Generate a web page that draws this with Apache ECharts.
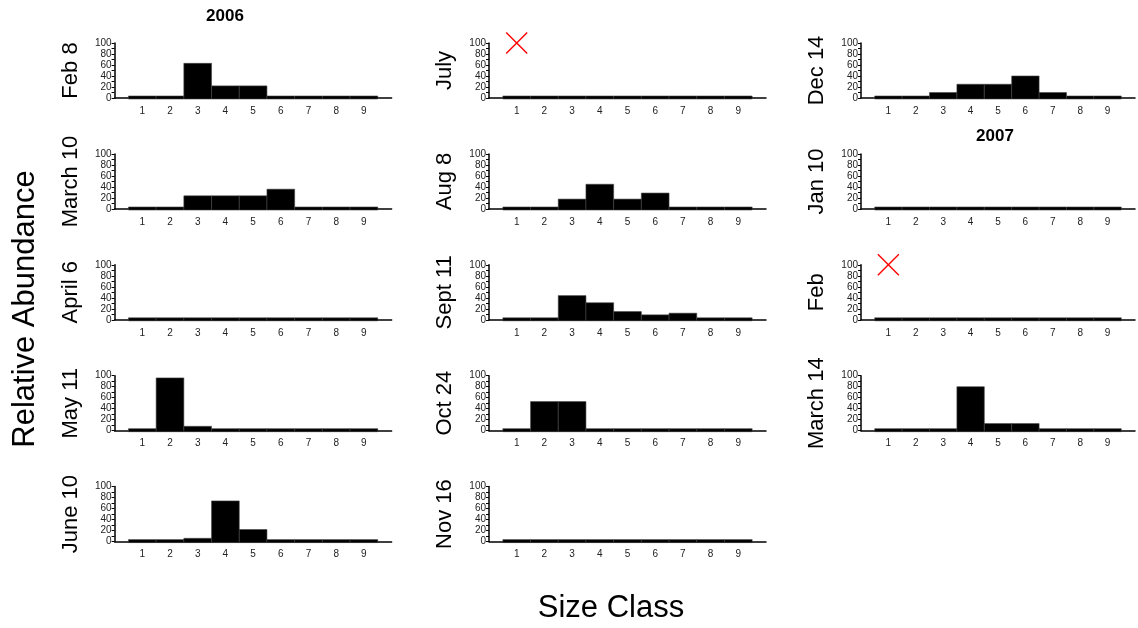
<!DOCTYPE html>
<html>
<head>
<meta charset="utf-8">
<script src="https://cdn.jsdelivr.net/npm/echarts@6/dist/echarts.min.js"></script>
<style>
  html, body { margin: 0; padding: 0; background: #fff; }
  #chart { width: 1138px; height: 628px; }
</style>
</head>
<body>
<div id="chart"></div>
<script>
// Size classes along the x axis
const sizeClasses = [1, 2, 3, 4, 5, 6, 7, 8, 9];
const yTicks = [0, 20, 40, 60, 80, 100];

// Sampling dates, in panel order (column by column)
const dates = ['Feb 8', 'March 10', 'April 6', 'May 11', 'June 10',
               'July', 'Aug 8', 'Sept 11', 'Oct 24', 'Nov 16',
               'Dec 14', 'Jan 10', 'Feb', 'March 14'];

// Relative abundance (%) per size class for each date
const feb8     = [0, 0, 63, 22, 22, 0, 0, 0, 0];
const march10  = [0, 0, 24, 24, 24, 36, 0, 0, 0];
const april6   = [0, 0, 0, 0, 0, 0, 0, 0, 0];
const may11    = [0, 96, 8, 0, 0, 0, 0, 0, 0];
const june10   = [0, 0, 6, 74, 22, 3, 0, 0, 0];
const july     = [0, 0, 0, 0, 0, 0, 0, 0, 0];
const aug8     = [0, 0, 18, 45, 18, 29, 0, 0, 0];
const sept11   = [0, 0, 44, 31, 15, 9, 12, 0, 0];
const oct24    = [0, 53, 53, 0, 0, 0, 0, 0, 0];
const nov16    = [0, 0, 0, 0, 0, 0, 0, 0, 0];
const dec14    = [0, 0, 10, 25, 25, 40, 10, 0, 0];
const jan10    = [0, 0, 0, 0, 0, 0, 0, 0, 0];
const feb2007  = [0, 0, 0, 0, 0, 0, 0, 0, 0];
const march14  = [0, 0, 0, 80, 13, 13, 0, 0, 0];

const abundance = [feb8, march10, april6, may11, june10,
                   july, aug8, sept11, oct24, nov16,
                   dec14, jan10, feb2007, march14];

// Dates with no sample: a red cross at size class 1, 100%
const noSampleDates = ['July', 'Feb'];
const noSamplePoint = [1, 100];

const FONT = 'Liberation Sans, Arial, sans-serif';

// Panel grid geometry
const colLeft = [114.6, 489, 861];
const panelWidth = 277;
const rowTop = [43, 154, 264.8, 375.7, 486.6];
const panelHeight = 55;
const panelsPerCol = [5, 5, 4];

const grids = [], xAxes = [], yAxes = [], series = [];

let idx = 0;
for (let c = 0; c < 3; c++) {
  for (let r = 0; r < panelsPerCol[c]; r++) {
    const i = idx++;
    grids.push({ left: colLeft[c], top: rowTop[r], width: panelWidth, height: panelHeight, containLabel: false });
    xAxes.push({
      gridIndex: i, type: 'value', min: 0, max: 10, interval: 1,
      axisLine: { show: true, onZero: false, lineStyle: { color: '#000', width: 1.5 } },
      axisTick: { show: false },
      splitLine: { show: false },
      axisLabel: {
        fontFamily: FONT, fontSize: 10, color: '#222', margin: 8,
        formatter: v => (sizeClasses.indexOf(v) >= 0 ? String(v) : '')
      }
    });
    yAxes.push({
      gridIndex: i, type: 'value', min: yTicks[0], max: yTicks[yTicks.length - 1], interval: 20,
      name: dates[i], nameLocation: 'middle', nameGap: 33, nameRotate: 90,
      nameTextStyle: { fontFamily: FONT, fontSize: 22, color: '#000' },
      axisLine: { show: true, lineStyle: { color: '#000', width: 1.5 } },
      axisTick: { show: true, inside: false, length: 3, lineStyle: { color: '#000', width: 1 } },
      minorTick: { show: true, splitNumber: 2, length: 3, lineStyle: { color: '#000', width: 1 } },
      splitLine: { show: false },
      axisLabel: { fontFamily: FONT, fontSize: 10, color: '#222', margin: 3 }
    });
    series.push({
      type: 'custom',
      xAxisIndex: i, yAxisIndex: i,
      data: sizeClasses.map((s, k) => [s, abundance[i][k]]),
      renderItem: function (params, api) {
        const x = api.value(0), v = api.value(1);
        const p0 = api.coord([x - 0.5, 0]);
        const p1 = api.coord([x + 0.5, v]);
        let top = p1[1];
        let bottom = p0[1];
        // empty size classes still show as a heavy rule on the baseline
        if (bottom - top < 2) { top = bottom - 2; }
        return {
          type: 'rect',
          shape: { x: p0[0], y: top, width: p1[0] - p0[0], height: bottom - top + 1 },
          style: { fill: '#000', stroke: '#444', lineWidth: 0.6 }
        };
      },
      silent: true
    });
    if (noSampleDates.indexOf(dates[i]) >= 0) {
      series.push({
        type: 'custom',
        xAxisIndex: i, yAxisIndex: i,
        data: [noSamplePoint],
        clip: false,
        renderItem: function (params, api) {
          const p = api.coord([api.value(0), api.value(1)]);
          const h = 10.5;
          const st = { stroke: '#ff0000', lineWidth: 1.4 };
          return {
            type: 'group',
            children: [
              { type: 'line', shape: { x1: p[0] - h, y1: p[1] - h, x2: p[0] + h, y2: p[1] + h }, style: st },
              { type: 'line', shape: { x1: p[0] + h, y1: p[1] - h, x2: p[0] - h, y2: p[1] + h }, style: st }
            ]
          };
        },
        silent: true,
        z: 5
      });
    }
  }
}

const chart = echarts.init(document.getElementById('chart'), null, { renderer: 'canvas' });
chart.setOption({
  animation: false,
  backgroundColor: '#fff',
  graphic: [
    { type: 'text', x: 225, y: 16,
      style: { text: '2006', fontFamily: FONT, fontSize: 17, fontWeight: 'bold', fill: '#000',
               align: 'center', verticalAlign: 'middle' } },
    { type: 'text', x: 995, y: 136,
      style: { text: '2007', fontFamily: FONT, fontSize: 17, fontWeight: 'bold', fill: '#000',
               align: 'center', verticalAlign: 'middle' } },
    { type: 'text', x: 25, y: 309, rotation: Math.PI / 2,
      style: { text: 'Relative Abundance', fontFamily: FONT, fontSize: 31, fill: '#000',
               align: 'center', verticalAlign: 'middle' } },
    { type: 'text', x: 611, y: 608,
      style: { text: 'Size Class', fontFamily: FONT, fontSize: 31, fill: '#000',
               align: 'center', verticalAlign: 'middle' } }
  ],
  grid: grids,
  xAxis: xAxes,
  yAxis: yAxes,
  series: series
});
</script>
</body>
</html>
